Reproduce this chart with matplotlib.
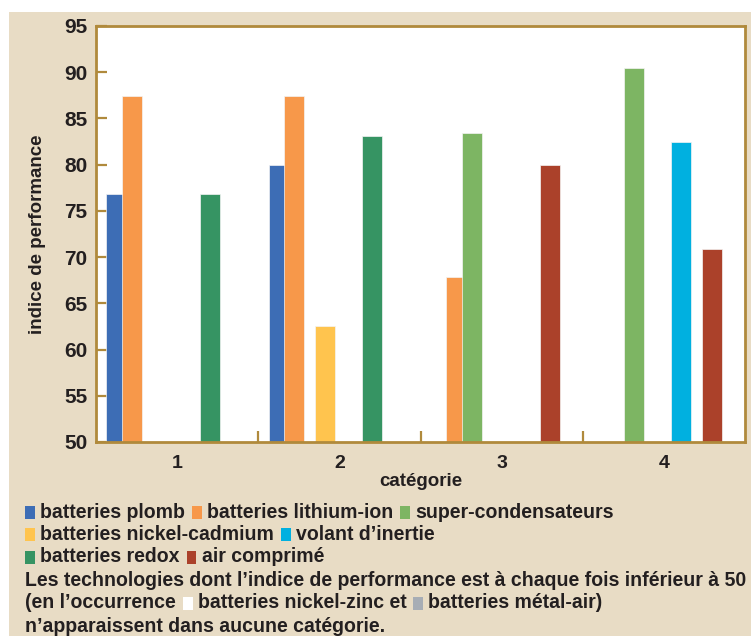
import matplotlib.pyplot as plt
import numpy as np
from matplotlib.patches import Rectangle

nan = np.nan

categories = ['1', '2', '3', '4']
technologies = ['batteries plomb', 'batteries lithium-ion', 'super-condensateurs',
                'batteries nickel-cadmium', 'batteries nickel-zinc', 'volant d’inertie',
                'batteries redox', 'air comprimé', 'batteries métal-air']
colors = ['#3d6db5', '#f7984a', '#7db563', '#ffc44e', '#ffffff', '#00b0e0',
          '#369463', '#ab412a', '#a7adb5']

# performance index per category (nan = below 50, not shown)
plomb = [76.8, 80.0, nan, nan]
lithium = [87.4, 87.4, 67.8, nan]
supercond = [nan, nan, 83.4, 90.5]
nicad = [nan, 62.5, nan, nan]
nizinc = [nan, nan, nan, nan]
volant = [nan, nan, nan, 82.4]
redox = [76.8, 83.1, nan, nan]
air = [nan, nan, 80.0, 70.9]
metal = [nan, nan, nan, nan]
series = [plomb, lithium, supercond, nicad, nizinc, volant, redox, air, metal]

yticks = [50, 55, 60, 65, 70, 75, 80, 85, 90, 95]
note1 = 'Les technologies dont l’indice de performance est à chaque fois inférieur à 50'

W, H = 751, 636
txtcol = '#231f20'
gold = '#b08a3c'
beige = '#e8dcc5'

plt.rcParams['font.family'] = ['Liberation Sans', 'DejaVu Sans']
plt.rcParams['font.weight'] = 'bold'
plt.rcParams['axes.labelweight'] = 'bold'

fig = plt.figure(figsize=(W / 100, H / 100), dpi=100)
fig.patch.set_facecolor('white')
fig.add_artist(Rectangle((9 / W, 0), 1, 1 - 12 / H, transform=fig.transFigure,
                         facecolor=beige, edgecolor='none', zorder=-5))

ax = fig.add_axes([96 / W, 1 - 442 / H, (745 - 96) / W, (442 - 26) / H])
ax.set_facecolor('white')

x = np.arange(1, len(categories) + 1)
for i, vals in enumerate(series):
    ax.bar(x - 0.375 + 0.096 * i, vals, width=0.123, color=colors[i],
           edgecolor='#f4f4f4', linewidth=0.5, zorder=2 + i)

ax.set_xlim(0.5, 4.5)
ax.set_ylim(50, 95)
ax.set_yticks(yticks)
ax.set_xticks(x)
ax.set_xticklabels(categories)
ax.set_xticks([1.5, 2.5, 3.5], minor=True)

for s in ax.spines.values():
    s.set_color(gold)
    s.set_linewidth(2)
    s.set_zorder(20)

ax.tick_params(axis='y', direction='in', length=8, width=1.6, color=gold,
               labelsize=15, labelcolor=txtcol, pad=6)
ax.tick_params(axis='x', which='major', length=0, labelsize=14,
               labelcolor=txtcol, pad=9)
ax.tick_params(axis='x', which='minor', direction='in', length=8, width=1.6, color=gold)

ax.set_ylabel('indice de performance', fontsize=13.5, color=txtcol, labelpad=13)
ax.set_xlabel('catégorie', fontsize=13.5, color=txtcol, labelpad=1)

renderer = fig.canvas.get_renderer()

# fit the legend font size so the long note line spans like the original
probe = fig.text(0, 0, note1, fontsize=13, fontweight='bold')
legsize = 13 * 720 / probe.get_window_extent(renderer).width
probe.remove()


def inline_row(y, parts, x0=25, size=legsize):
    xp = x0
    for kind, val in parts:
        if kind == 'sq':
            fig.add_artist(Rectangle((xp / W, 1 - (y + 6.5) / H), 10 / W, 13 / H,
                                     transform=fig.transFigure, facecolor=val,
                                     edgecolor='none'))
            xp += 10 + 5
        else:
            t = fig.text(xp / W, 1 - y / H, val, va='center', ha='left',
                         fontsize=size, color=txtcol, fontweight='bold')
            xp += t.get_window_extent(renderer).width + 7


inline_row(512, [('sq', colors[0]), ('t', technologies[0]),
                 ('sq', colors[1]), ('t', technologies[1]),
                 ('sq', colors[2]), ('t', technologies[2])])
inline_row(534, [('sq', colors[3]), ('t', technologies[3]),
                 ('sq', colors[5]), ('t', technologies[5])])
inline_row(557, [('sq', colors[6]), ('t', technologies[6]),
                 ('sq', colors[7]), ('t', technologies[7])])
inline_row(580, [('t', note1)])
inline_row(603, [('t', '(en l’occurrence'), ('sq', colors[4]), ('t', technologies[4] + ' et'),
                 ('sq', colors[8]), ('t', technologies[8] + ')')])
inline_row(626, [('t', 'n’apparaissent dans aucune catégorie.')])

fig.savefig('out.png', dpi=100)
